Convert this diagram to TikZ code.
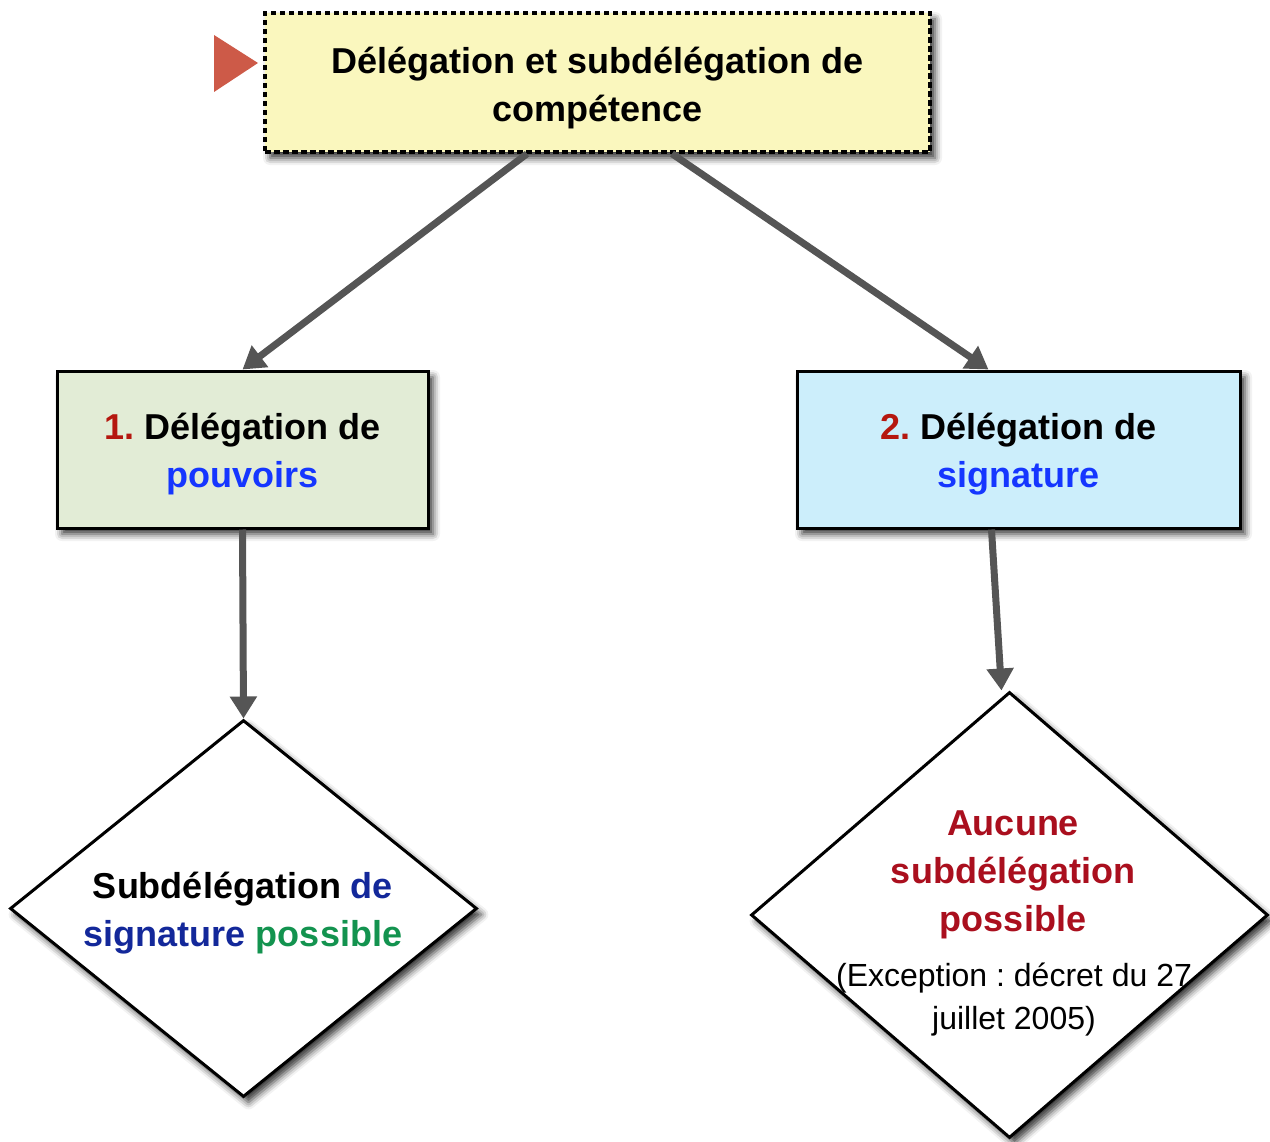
\documentclass[tikz,border=0pt]{standalone}
\usepackage{fontspec}
\setmainfont{Liberation Sans}
\usetikzlibrary{shapes.geometric,arrows.meta,shadows.blur}
\definecolor{topfill}{HTML}{FAF7BE}
\definecolor{leftfill}{HTML}{E2ECD6}
\definecolor{rightfill}{HTML}{CCEEFB}
\definecolor{tricol}{HTML}{CD5A48}
\definecolor{conncol}{HTML}{555555}
\definecolor{numred}{HTML}{B5170F}
\definecolor{brblue}{HTML}{1536FF}
\definecolor{navy}{HTML}{13289A}
\definecolor{dkgreen}{HTML}{13934F}
\definecolor{dkred}{HTML}{AA0F1E}
\newcommand\myTopStrut[1]{\rule{0pt}{#1}}
\newcommand\myBotStrut{\rule[-7pt]{0pt}{7pt}}
\begin{document}
\frenchspacing
\begin{tikzpicture}[x=1pt,y=-1pt,
  shad/.style={blur shadow={shadow xshift=5pt,shadow yshift=-6pt,shadow blur radius=7pt,shadow opacity=80}},
  bigtext/.style={font=\fontsize{36}{48}\selectfont\bfseries, align=center, inner sep=0pt},
  smalltext/.style={font=\fontsize{32}{43}\selectfont, align=center, inner sep=0pt},
  topbox/.style={draw=black, line width=3.5pt, dash pattern=on 5.5pt off 3.5pt, fill=topfill, shad,
    minimum width=665pt, minimum height=139pt, bigtext},
  catbox/.style={draw=black, line width=3pt, shad, minimum height=157pt, bigtext},
  diam/.style={diamond, draw=black, line width=3pt, fill=white, shad, inner sep=0pt},
  conn/.style={draw=conncol, line width=7pt, -{Triangle[length=22pt,width=26pt]}}
]
\useasboundingbox (0,0) rectangle (1270,1142);

% top box
\node[topbox] (top) at (597.5,82.5)
  {\myTopStrut{38pt}Délégation et subdélégation de\\compétence\myBotStrut};
\fill[tricol] (214,35) -- (258,63) -- (214,92) -- cycle;

% category boxes
\node[catbox, fill=leftfill, minimum width=371pt] (b1) at (242.5,449.5)
  {\myTopStrut{36pt}\textcolor{numred}{1.} Délégation de\\\textcolor{brblue}{pouvoirs}\myBotStrut};
\node[catbox, fill=rightfill, minimum width=443pt] (b2) at (1018.5,449.5)
  {\myTopStrut{36pt}\textcolor{numred}{2.} Délégation de\\\textcolor{brblue}{signature}\myBotStrut};

% diamonds
\node[diam, minimum width=467pt, minimum height=377pt] (d1) at (243.5,908.5) {};
\node[bigtext] (d1t) at (243,913)
  {Subdélégation \textcolor{navy}{de}\\\textcolor{navy}{signature} \textcolor{dkgreen}{possible}};

\node[diam, minimum width=517pt, minimum height=446pt] (d2) at (1009.5,915) {};
\node[bigtext, text=dkred] (d2t) at (1013,875) {Aucune\\subdélégation\\possible};
\node[smalltext] (d2n) at (1014,1000) {(Exception : décret du 27\\juillet 2005)};

% connectors
\draw[conn] ([xshift=-70.5pt]top.south) -- (b1.north);
\draw[conn] ([xshift=74.5pt]top.south) -- ([xshift=-30pt]b2.north);
\draw[conn] (b1.south) -- (d1.north);
\draw[conn] ([xshift=-27pt]b2.south) -- ([xshift=-8pt]d2.north);
\end{tikzpicture}
\end{document}
